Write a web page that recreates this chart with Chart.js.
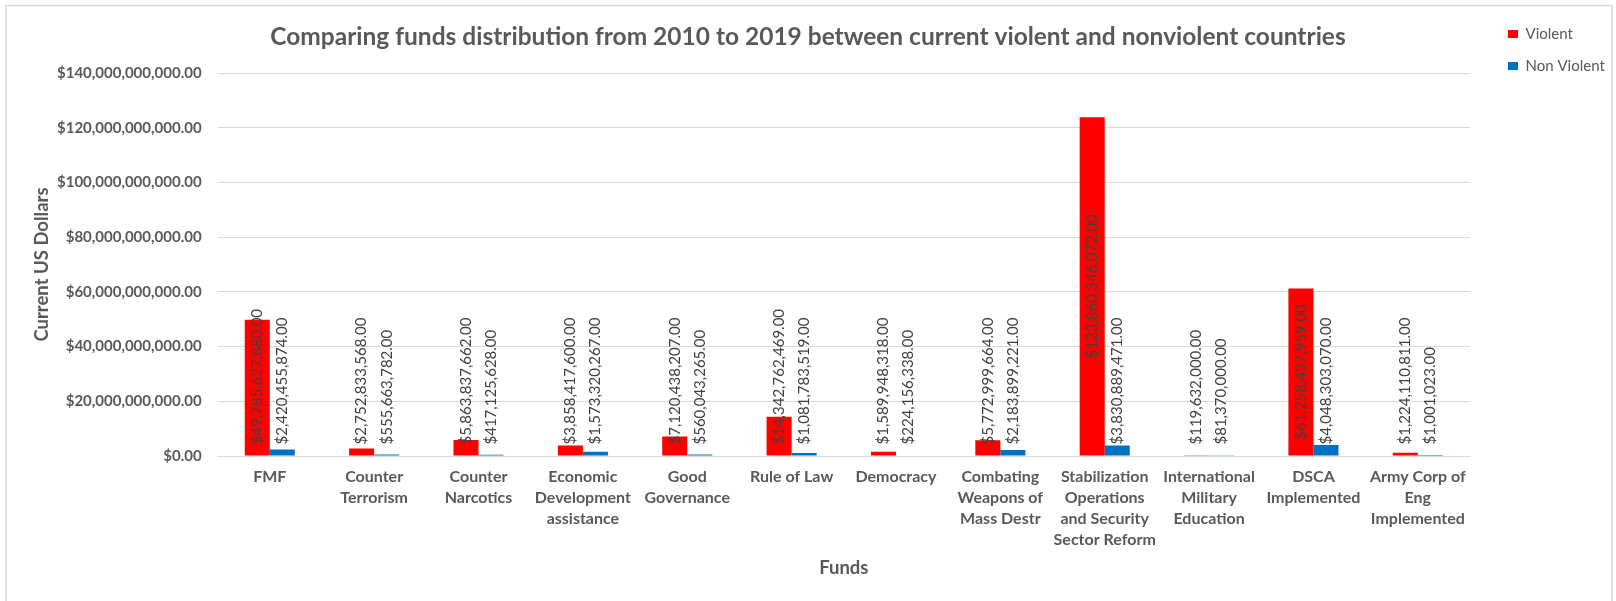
<!DOCTYPE html>
<html>
<head>
<meta charset="utf-8">
<script src="https://cdn.jsdelivr.net/npm/chart.js@4.4.1/dist/chart.umd.min.js"></script>
<style>
  html, body { margin: 0; padding: 0; background: #ffffff; }
  #wrap { position: relative; width: 1616px; height: 601px; }
  canvas { display: block; }
</style>
</head>
<body>
<div id="wrap"><canvas id="c" width="1616" height="601"></canvas></div>
<script>
const categories = [
  "FMF",
  ["Counter", "Terrorism"],
  ["Counter", "Narcotics"],
  ["Economic", "Development", "assistance"],
  ["Good", "Governance"],
  "Rule of Law",
  "Democracy",
  ["Combating", "Weapons of", "Mass Destr"],
  ["Stabilization", "Operations", "and Security", "Sector Reform"],
  ["International", "Military", "Education"],
  ["DSCA", "Implemented"],
  ["Army Corp of", "Eng", "Implemented"]
];
const violent = [
  49785627880, 2752833568, 5863837662, 3858417600, 7120438207, 14342762469,
  1589948318, 5772999664, 123860346072, 119632000, 61258437959, 1224110811
];
const nonViolent = [
  2420455874, 555663782, 417125628, 1573320267, 560043265, 1081783519,
  224156338, 2183899221, 3830889471, 81370000, 4048303070, 1001023
];
const seriesNames = ["Violent", "Non Violent"];
const seriesColors = ["#FF0000", "#0070C0"];
const yMax = 140000000000;
const yStep = 20000000000;
const chartTitle = "Comparing funds distribution from 2010 to 2019 between current violent and nonviolent countries";
const xTitle = "Funds";
const yTitle = "Current US Dollars";

function money(v) {
  return "$" + Number(v).toLocaleString("en-US", { minimumFractionDigits: 2, maximumFractionDigits: 2 });
}

const FONT = "Lato, 'Liberation Sans', sans-serif";
const GRAY = "#595959";
const X_TICK_PAD = 10.6;
const Y_TICK_PAD = 16;

const borderPlugin = {
  id: "outerBorder",
  beforeDraw(chart) {
    const ctx = chart.ctx;
    ctx.save();
    ctx.fillStyle = "#ffffff";
    ctx.fillRect(0, 0, chart.width, chart.height);
    ctx.strokeStyle = "#d9d9d9";
    ctx.lineWidth = 1.5;
    ctx.strokeRect(6, 5.5, 1606, 620);
    ctx.restore();
  }
};

const labelPlugin = {
  id: "barValueLabels",
  afterDatasetsDraw(chart) {
    const ctx = chart.ctx;
    ctx.save();
    ctx.font = "15px " + FONT;
    ctx.fillStyle = "#404040";
    ctx.textAlign = "left";
    ctx.textBaseline = "middle";
    chart.data.datasets.forEach((ds, i) => {
      const meta = chart.getDatasetMeta(i);
      meta.data.forEach((bar, j) => {
        const p = bar.getProps(["x", "y", "base"], true);
        const txt = money(ds.data[j]);
        const w = ctx.measureText(txt).width;
        const center = (p.y + p.base) / 2;
        const bottom = Math.min(center + w / 2, p.base - 11);
        ctx.save();
        ctx.translate(p.x, bottom);
        ctx.rotate(-Math.PI / 2);
        ctx.fillText(txt, 0, 0);
        ctx.restore();
      });
    });
    ctx.restore();
  }
};

const LEGEND_WIDTH = 146;
const LEGEND_SHIFT = 21;
const legendTweak = {
  id: "legendTweak",
  afterInit(chart) {
    const lg = chart.legend;
    if (!lg) return;
    const origFit = lg.fit.bind(lg);
    lg.fit = function () { origFit(); this.width = LEGEND_WIDTH; };
    const origDraw = lg.draw.bind(lg);
    lg.draw = function (a) { this.left += LEGEND_SHIFT; origDraw(a); this.left -= LEGEND_SHIFT; };
  }
};

new Chart(document.getElementById("c"), {
  type: "bar",
  data: {
    labels: categories,
    datasets: [
      { label: seriesNames[0], data: violent, backgroundColor: seriesColors[0], borderWidth: 0 },
      { label: seriesNames[1], data: nonViolent, backgroundColor: seriesColors[1], borderWidth: 0 }
    ]
  },
  plugins: [borderPlugin, legendTweak, labelPlugin],
  options: {
    responsive: false,
    animation: false,
    devicePixelRatio: 1,
    layout: { padding: { left: 0, right: 0, top: 9.5, bottom: 14.8 } },
    datasets: { bar: { categoryPercentage: 0.48, barPercentage: 1.0 } },
    plugins: {
      tooltip: { enabled: false },
      title: {
        display: true,
        text: chartTitle,
        color: GRAY,
        font: { family: FONT, size: 24.5, weight: "bold", lineHeight: 1.2 },
        padding: { top: 12.8, bottom: 21.3 }
      },
      legend: {
        display: true,
        position: "right",
        align: "start",
        labels: {
          color: GRAY,
          font: { family: FONT, size: 15 },
          boxWidth: 10,
          boxHeight: 8,
          padding: 17
        }
      }
    },
    scales: {
      x: {
        afterFit(scale) { scale.height -= X_TICK_PAD; },
        grid: { display: false, drawTicks: false },
        border: { display: true, color: "#d9d9d9", width: 1 },
        ticks: {
          color: GRAY,
          font: { family: FONT, size: 16, weight: "bold", lineHeight: 1.3 },
          padding: X_TICK_PAD,
          maxRotation: 0,
          minRotation: 0,
          autoSkip: false
        },
        title: {
          display: true,
          text: xTitle,
          color: GRAY,
          font: { family: FONT, size: 18.5, weight: "bold", lineHeight: 1.2 },
          padding: { top: 7.1, bottom: 7.1 }
        }
      },
      y: {
        afterFit(scale) { scale.width -= Y_TICK_PAD; },
        min: 0,
        max: yMax,
        grid: { color: "#d9d9d9", lineWidth: 1, drawTicks: false },
        border: { display: false },
        ticks: {
          stepSize: yStep,
          color: GRAY,
          font: { family: FONT, size: 15, weight: "bold" },
          padding: Y_TICK_PAD,
          callback: (v) => money(v)
        },
        title: {
          display: true,
          text: yTitle,
          color: GRAY,
          font: { family: FONT, size: 18.5, weight: "bold", lineHeight: 1.2 },
          padding: { top: 30.9, bottom: 3.9 }
        }
      }
    }
  }
});
</script>
</body>
</html>
